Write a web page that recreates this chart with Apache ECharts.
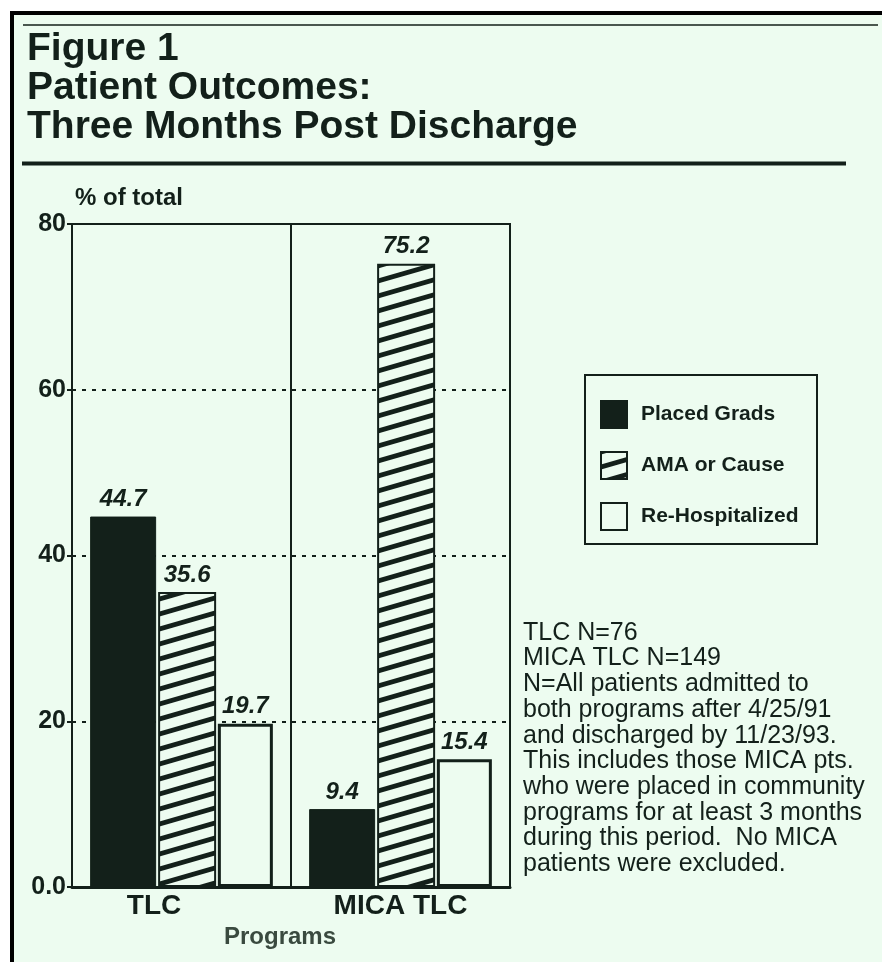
<!DOCTYPE html>
<html>
<head>
<meta charset="utf-8">
<script src="https://cdn.jsdelivr.net/npm/echarts@6/dist/echarts.min.js"></script>
<style>
html,body{margin:0;padding:0;background:#ffffff;}
#chart{width:882px;height:962px;}
</style>
</head>
<body>
<div id="chart"></div>
<script>
// ---- data ----
const categories = ['TLC', 'MICA TLC'];
const seriesNames = ['Placed Grads', 'AMA or Cause', 'Re-Hospitalized'];
const placedGrads = [44.7, 9.4];
const amaOrCause = [35.6, 75.2];
const reHospitalized = [19.7, 15.4];
const yTickLabels = ['0.0', '20', '40', '60', '80'];
const titleLines = ['Figure 1', 'Patient Outcomes:', 'Three Months Post Discharge'];
const noteLines = [
  'TLC N=76',
  'MICA TLC N=149',
  'N=All patients admitted to',
  'both programs after 4/25/91',
  'and discharged by 11/23/93.',
  'This includes those MICA pts.',
  'who were placed in community',
  'programs for at least 3 months',
  'during this period.  No MICA',
  'patients were excluded.'
];

// ---- style ----
const BG = '#edfcf0';
const DARK = '#13201a';
const FONT = "'Liberation Sans', Arial, Helvetica, sans-serif";

function makeHatch() {
  const c = document.createElement('canvas');
  c.width = 52; c.height = 15;
  const ctx = c.getContext('2d');
  ctx.fillStyle = BG;
  ctx.fillRect(0, 0, 52, 15);
  ctx.strokeStyle = DARK;
  ctx.lineWidth = 4.8;
  for (const off of [-15, 0, 15]) {
    ctx.beginPath();
    ctx.moveTo(-4, 15 + off + 4 * 15 / 52);
    ctx.lineTo(56, off - 4 * 15 / 52);
    ctx.stroke();
  }
  return c;
}
const hatch = { image: makeHatch(), repeat: 'repeat' };

const chart = echarts.init(document.getElementById('chart'), null, { renderer: 'canvas' });

const labelStyle = {
  show: true, position: 'top', distance: 5,
  fontFamily: FONT, fontSize: 24, fontWeight: 'bold', fontStyle: 'italic', color: DARK
};

const option = {
  backgroundColor: BG,
  animation: false,
  textStyle: { fontFamily: FONT },
  title: [
    {
      text: titleLines.join('\n'),
      left: 27, top: 30, padding: 0,
      textStyle: { fontFamily: FONT, fontSize: 39, fontWeight: 'bold', color: DARK, lineHeight: 39 }
    },
    {
      text: noteLines.join('\n'),
      left: 523, top: 620, padding: 0,
      textStyle: { fontFamily: FONT, fontSize: 25, fontWeight: 'normal', color: DARK, lineHeight: 25.7 }
    }
  ],
  legend: {
    orient: 'vertical',
    left: 600, top: 400,
    padding: 0,
    icon: 'rect',
    itemWidth: 26, itemHeight: 27, itemGap: 22,
    selectedMode: false,
    data: seriesNames,
    itemStyle: { borderColor: DARK, borderWidth: 2 },
    textStyle: { fontFamily: FONT, fontSize: 21, fontWeight: 'bold', color: DARK, padding: [10, 0, 0, 9] }
  },
  grid: {
    left: 72, right: 372, top: 224, bottom: 75,
    show: true, borderColor: DARK, borderWidth: 2, backgroundColor: 'transparent'
  },
  xAxis: {
    type: 'category',
    data: categories.map((c, i) => i === 0 ? { value: c, textStyle: { padding: [0, 55, 0, 0] } } : c),
    name: 'Programs',
    nameLocation: 'middle',
    nameGap: 28,
    nameTextStyle: { fontFamily: FONT, fontSize: 24, fontWeight: 'bold', color: '#3a4a3f', padding: [0, 22, 0, 0] },
    axisLine: { show: true, lineStyle: { color: DARK, width: 3 } },
    axisTick: { show: false },
    axisLabel: { margin: 5, fontFamily: FONT, fontSize: 28, fontWeight: 'bold', color: DARK },
    splitLine: { show: true, interval: 0, lineStyle: { color: DARK, width: 2, type: 'solid' } }
  },
  yAxis: {
    type: 'value',
    min: 0, max: 80, interval: 20,
    name: '% of total',
    nameLocation: 'end',
    nameGap: 14,
    nameTextStyle: { fontFamily: FONT, fontSize: 24, fontWeight: 'bold', color: DARK, align: 'left', padding: [0, 0, 0, 3] },
    axisLine: { show: false },
    axisTick: { show: true, inside: false, length: 5, lineStyle: { color: DARK, width: 2 } },
    axisLabel: {
      margin: 6, fontFamily: FONT, fontSize: 25, fontWeight: 'bold', color: DARK,
      formatter: v => yTickLabels[Math.round(v / 20)]
    },
    splitLine: { show: true, lineStyle: { color: DARK, width: 2.2, type: [4, 6] } }
  },
  series: [
    {
      name: seriesNames[0], type: 'bar', data: placedGrads,
      barWidth: 66, barGap: '3%',
      itemStyle: { color: DARK, borderColor: DARK, borderWidth: 1 },
      label: labelStyle, z: 3
    },
    {
      name: seriesNames[1], type: 'bar', data: amaOrCause,
      barWidth: 58, barGap: '3%',
      itemStyle: { color: hatch, borderColor: DARK, borderWidth: 2 },
      label: labelStyle, z: 3
    },
    {
      name: seriesNames[2], type: 'bar', data: reHospitalized,
      barWidth: 55, barGap: '3%',
      itemStyle: { color: BG, borderColor: DARK, borderWidth: 3 },
      label: labelStyle, z: 3
    }
  ],
  graphic: [
    { type: 'rect', shape: { x: 0, y: 0, width: 882, height: 11 }, style: { fill: '#ffffff' }, silent: true },
    { type: 'rect', shape: { x: 0, y: 0, width: 10, height: 962 }, style: { fill: '#ffffff' }, silent: true },
    { type: 'rect', shape: { x: 10, y: 11, width: 872, height: 4 }, style: { fill: '#000000' }, silent: true },
    { type: 'rect', shape: { x: 10, y: 11, width: 4, height: 951 }, style: { fill: '#000000' }, silent: true },
    { type: 'line', shape: { x1: 23, y1: 25, x2: 878, y2: 25 }, style: { stroke: DARK, lineWidth: 1.5 }, silent: true },
    { type: 'line', shape: { x1: 22, y1: 163.5, x2: 846, y2: 163.5 }, style: { stroke: DARK, lineWidth: 4 }, silent: true },
    { type: 'rect', shape: { x: 585, y: 375, width: 232, height: 169 }, style: { fill: 'none', stroke: DARK, lineWidth: 2 }, silent: true }
  ]
};

chart.setOption(option);
</script>
</body>
</html>
